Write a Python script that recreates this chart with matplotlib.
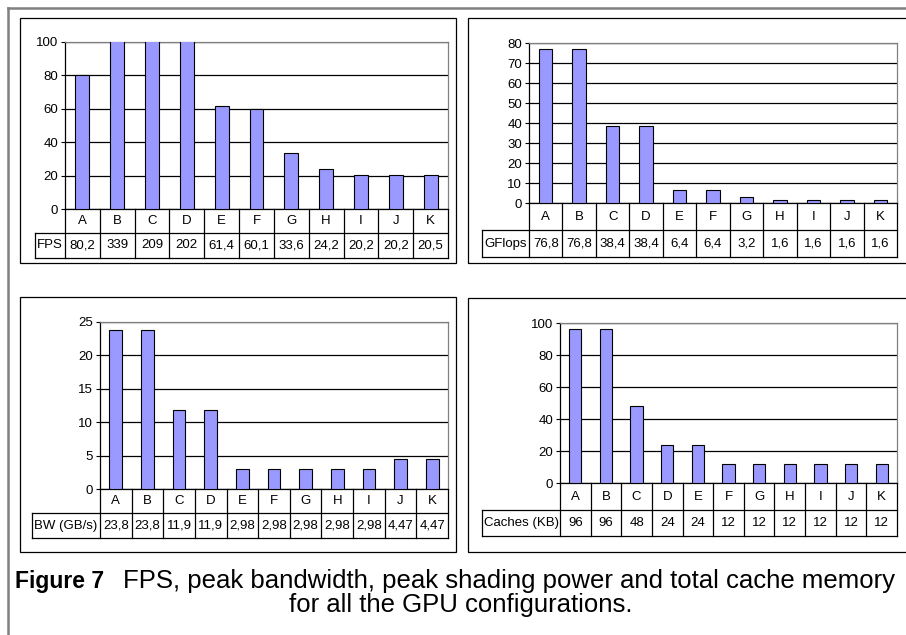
import matplotlib
matplotlib.use("Agg")
import matplotlib.pyplot as plt
import matplotlib.transforms as mtransforms
from matplotlib.patches import Rectangle
from matplotlib.lines import Line2D

plt.rcParams['font.family'] = ['Liberation Sans', 'DejaVu Sans']

configs = ["A", "B", "C", "D", "E", "F", "G", "H", "I", "J", "K"]
fps = [80.2, 339, 209, 202, 61.4, 60.1, 33.6, 24.2, 20.2, 20.2, 20.5]
gflops = [76.8, 76.8, 38.4, 38.4, 6.4, 6.4, 3.2, 1.6, 1.6, 1.6, 1.6]
bandwidth = [23.8, 23.8, 11.9, 11.9, 2.98, 2.98, 2.98, 2.98, 2.98, 4.47, 4.47]
caches = [96, 96, 48, 24, 24, 12, 12, 12, 12, 12, 12]

W, H = 906, 635
BAR = "#9999FF"
GRAY = "#808080"


def fx(x):
    return x / W


def fy(y):
    return 1 - y / H


def fmt(v):
    return f"{v:g}".replace(".", ",")


def panel(fig, plot, cat_b, val_b, lab_l, box, values, ymax, step, label):
    l, t, r, b = plot
    ax = fig.add_axes([fx(l), fy(b), (r - l) / W, (b - t) / H])
    x = range(len(configs))
    ax.bar(x, values, width=0.4, color=BAR, edgecolor="black",
           linewidth=0.8, zorder=3)
    ax.set_xlim(-0.5, len(configs) - 0.5)
    ax.set_ylim(0, ymax)
    ax.set_yticks(range(0, ymax + 1, step))
    ax.set_xticks([])
    ax.yaxis.grid(True, color="black", linewidth=0.9)
    ax.set_axisbelow(True)
    ax.tick_params(axis="y", direction="out", length=3, width=0.8,
                   labelsize=9.5, pad=2)
    for s in ["left", "bottom"]:
        ax.spines[s].set_color("black")
        ax.spines[s].set_linewidth(0.9)
    for s in ["top", "right"]:
        ax.spines[s].set_color(GRAY)
        ax.spines[s].set_linewidth(0.9)

    # data table under the plot
    trans = mtransforms.blended_transform_factory(ax.transData, fig.transFigure)
    n = len(configs)
    cw = (r - l) / n
    lab_x = -0.5 - (l - lab_l) / cw
    kw = dict(transform=trans, clip_on=False, color="black", linewidth=0.9)
    ax.plot([lab_x, n - 0.5], [fy(cat_b)] * 2, **kw)
    ax.plot([lab_x, n - 0.5], [fy(val_b)] * 2, **kw)
    ax.plot([lab_x, lab_x], [fy(cat_b), fy(val_b)], **kw)
    for i in range(n + 1):
        ax.plot([i - 0.5, i - 0.5], [fy(b), fy(val_b)], **kw)
    for i, (c, v) in enumerate(zip(configs, values)):
        ax.text(i, fy((b + cat_b) / 2), c, transform=trans, ha="center",
                va="center", fontsize=9.5)
        ax.text(i, fy((cat_b + val_b) / 2), fmt(v), transform=trans,
                ha="center", va="center", fontsize=9.5)
    ax.text((lab_x - 0.5) / 2, fy((cat_b + val_b) / 2), label,
            transform=trans, ha="center", va="center", fontsize=9.5)

    bx0, by0, bx1, by1 = box
    fig.add_artist(Rectangle((fx(bx0), fy(by1)), (bx1 - bx0) / W,
                             (by1 - by0) / H, transform=fig.transFigure,
                             fill=False, edgecolor="black", linewidth=0.9))
    return ax


fig = plt.figure(figsize=(9.06, 6.35), dpi=100)

# outer frame
fig.add_artist(Line2D([fx(8), fx(906)], [fy(8), fy(8)],
                      transform=fig.transFigure, color=GRAY, linewidth=1.8))
fig.add_artist(Line2D([fx(8), fx(8)], [fy(8), fy(635)],
                      transform=fig.transFigure, color=GRAY, linewidth=1.8))

panel(fig, (65, 42, 448, 209), 233, 258, 35, (20, 18, 456, 263),
      fps, 100, 20, "FPS")
panel(fig, (529, 43, 897, 203), 230, 257, 482, (468, 18, 930, 263),
      gflops, 80, 10, "GFlops")
panel(fig, (100, 322, 448, 489), 513, 538, 32, (20, 297, 456, 552),
      bandwidth, 25, 5, "BW (GB/s)")
panel(fig, (560, 323, 897, 483), 510, 536, 482, (468, 298, 930, 552),
      caches, 100, 20, "Caches (KB)")

fig.text(fx(15), fy(588), "Figure 7", fontsize=16.5, fontweight="bold",
         va="baseline")
fig.text(fx(123), fy(588),
         "FPS, peak bandwidth, peak shading power and total cache memory",
         fontsize=18.5, va="baseline")
fig.text(fx(461), fy(612), "for all the GPU configurations.", fontsize=18.5,
         va="baseline", ha="center")

fig.savefig("out.png", dpi=100)
